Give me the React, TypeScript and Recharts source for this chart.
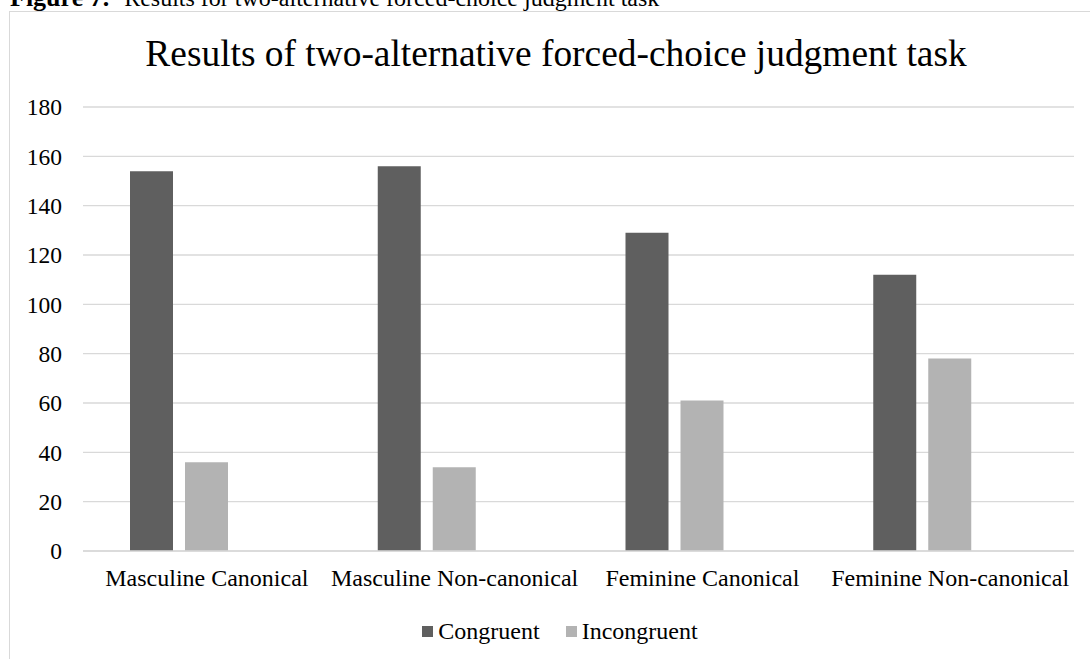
import React from 'react';
import { BarChart, Bar, XAxis, YAxis, CartesianGrid, Legend } from 'recharts';

const categories = [
  'Masculine Canonical',
  'Masculine Non-canonical',
  'Feminine Canonical',
  'Feminine Non-canonical',
];
const congruent = [154, 156, 129, 112];
const incongruent = [36, 34, 61, 78];
// Excel left an empty third series, which shifts each pair left of centre
const emptySeries = [null, null, null, null];
const yTicks = [0, 20, 40, 60, 80, 100, 120, 140, 160, 180];

const data = categories.map((name, i) => ({
  name,
  Congruent: congruent[i],
  Incongruent: incongruent[i],
  Blank: emptySeries[i],
}));

const FONT = '"Liberation Serif", "Times New Roman", serif';
const GRID = '#d9d9d9';

function LegendContent(props: any) {
  const items = (props.payload || []).filter((p: any) => p.type !== 'none');
  return (
    <div style={{ display: 'flex', justifyContent: 'center', fontFamily: FONT, fontSize: 24, color: '#000' }}>
      {items.map((p: any, i: number) => (
        <div key={p.value} style={{ display: 'flex', alignItems: 'center', marginLeft: i ? 26 : 0 }}>
          <span style={{ display: 'inline-block', width: 11, height: 11, background: p.color, marginRight: 5 }} />
          <span>{p.value}</span>
        </div>
      ))}
    </div>
  );
}

export default function App() {
  return (
    <div style={{ position: 'absolute', left: 0, top: 0, width: 1090, height: 659, overflow: 'hidden', background: '#fff' }}>
      <div
        style={{
          position: 'absolute',
          left: 10,
          top: -14,
          fontFamily: FONT,
          fontSize: 24,
          lineHeight: '24px',
          whiteSpace: 'nowrap',
          color: '#000',
        }}
      >
        <b style={{ fontSize: 26, marginRight: 15 }}>Figure 7.</b>Results for two-alternative forced-choice judgment task
      </div>
      <div
        style={{
          position: 'absolute',
          left: 9,
          top: 11,
          width: 1200,
          height: 800,
          border: `1px solid ${GRID}`,
          boxSizing: 'border-box',
        }}
      />
      <div
        style={{
          position: 'absolute',
          left: 556,
          top: 35,
          transform: 'translateX(-50%)',
          fontFamily: FONT,
          fontSize: 37.4,
          lineHeight: '37px',
          whiteSpace: 'nowrap',
          color: '#000',
        }}
      >
        Results of two-alternative forced-choice judgment task
      </div>
      <div style={{ position: 'absolute', left: 0, top: 0 }}>
        <BarChart
          width={1090}
          height={659}
          data={data}
          margin={{ top: 107, right: 16, left: 0, bottom: 78 }}
          barSize={43}
          barGap={12}
          barCategoryGap="19%"
        >
          <CartesianGrid vertical={false} stroke={GRID} strokeWidth={1.3} />
          <XAxis
            dataKey="name"
            height={30}
            axisLine={{ stroke: GRID, strokeWidth: 1.3 }}
            tickLine={false}
            tickSize={0}
            tickMargin={18}
            interval={0}
            tick={{ fill: '#000', fontSize: 24, fontFamily: FONT }}
          />
          <YAxis
            width={83}
            domain={[0, 180]}
            ticks={yTicks}
            axisLine={false}
            tickLine={false}
            tickSize={0}
            tickMargin={21}
            tick={{ fill: '#000', fontSize: 23.5, fontFamily: FONT }}
          />
          <Legend
            verticalAlign="middle"
            layout="horizontal"
            wrapperStyle={{ top: 618, left: 30, width: 1060 }}
            content={<LegendContent />}
          />
          <Bar dataKey="Congruent" fill="#5f5f5f" isAnimationActive={false} />
          <Bar dataKey="Incongruent" fill="#b3b3b3" isAnimationActive={false} />
          <Bar dataKey="Blank" fill="#888888" legendType="none" isAnimationActive={false} />
        </BarChart>
      </div>
    </div>
  );
}
